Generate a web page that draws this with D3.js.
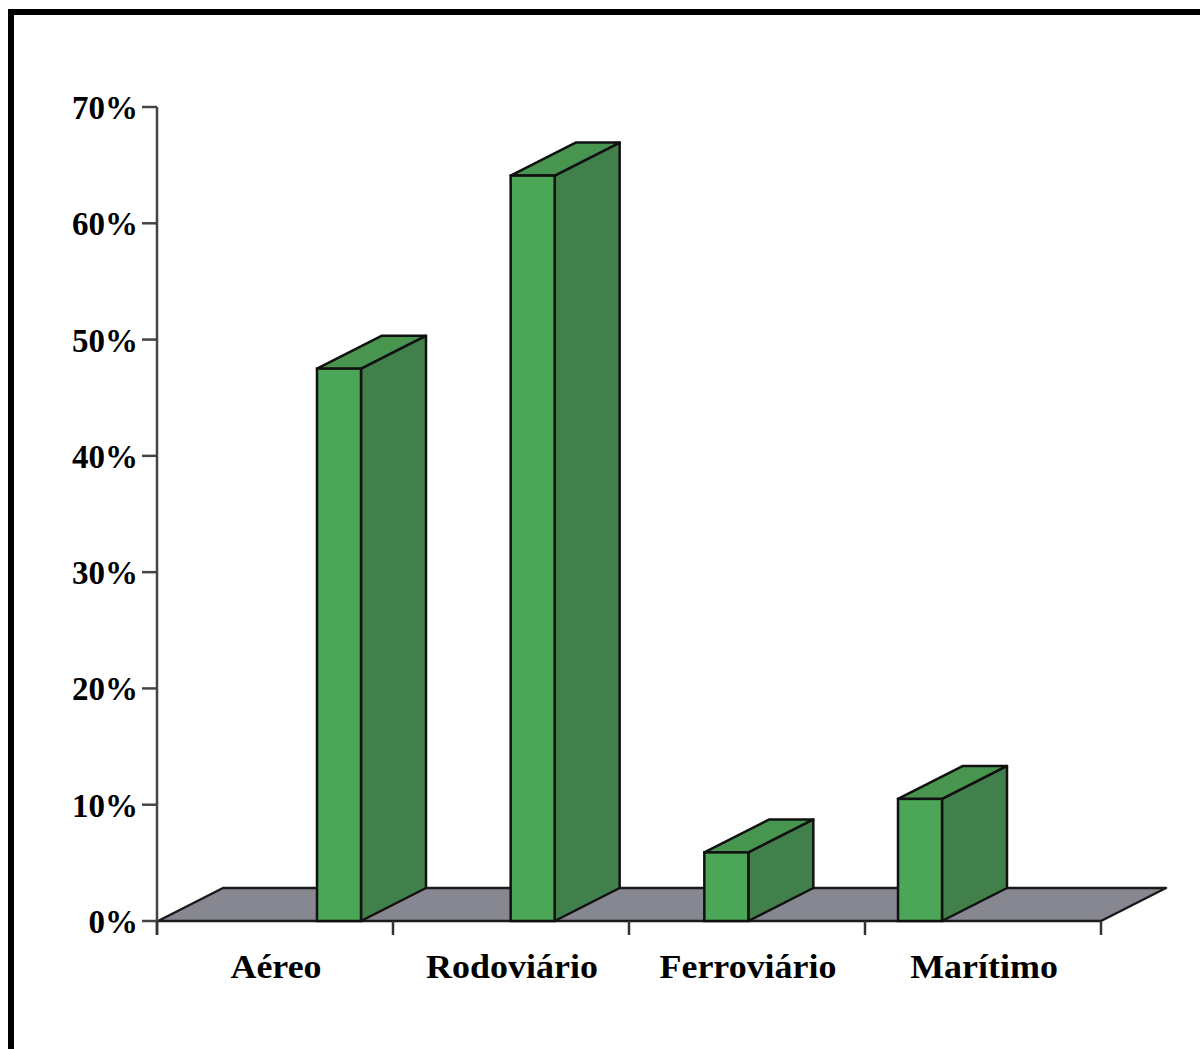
<!DOCTYPE html>
<html>
<head>
<meta charset="utf-8">
<script src="https://cdn.jsdelivr.net/npm/d3@7"></script>
<style>
  html, body { margin: 0; padding: 0; background: #fff; }
  svg { display: block; }
  text { font-family: "Liberation Serif", "Times New Roman", serif; font-weight: bold; fill: #000; }
</style>
</head>
<body>
<svg id="chart" width="1200" height="1049"></svg>
<script>
const categories = ["Aéreo", "Rodoviário", "Ferroviário", "Marítimo"];
const values = [0.475, 0.641, 0.059, 0.105];
const yTicks = [0, 0.1, 0.2, 0.3, 0.4, 0.5, 0.6, 0.7];

const svg = d3.select("#chart");
const W = 1200, H = 1049;

// frame
svg.append("rect")
  .attr("x", 11).attr("y", 12)
  .attr("width", W + 20).attr("height", H + 20)
  .attr("fill", "none").attr("stroke", "#000").attr("stroke-width", 6);

const y = d3.scaleLinear().domain([0, 0.7]).range([921, 107]);
const xAxisScale = d3.scaleBand().domain(categories).range([157, 1101]);
const xBar = d3.scalePoint().domain(categories).range([317, 898]);
const barW = 44;
const dx = 65, dy = -33;

const g = svg.append("g");

// floor
const fl = 158, fr = 1101, fy = y(0);
g.append("path")
  .attr("d", `M${fl},${fy} L${fr},${fy} L${fr+dx},${fy+dy} L${fl+dx},${fy+dy} Z`)
  .attr("fill", "#878792").attr("stroke", "#1a1a1a").attr("stroke-width", 2.5)
  .attr("stroke-linejoin", "round");

// y axis
g.append("line").attr("x1", 157).attr("x2", 157).attr("y1", y(0.7)).attr("y2", y(0) + 14)
  .attr("stroke", "#444").attr("stroke-width", 2.5);
g.selectAll(".ytick").data(yTicks).enter().append("line")
  .attr("x1", 142).attr("x2", 157)
  .attr("y1", d => y(d)).attr("y2", d => y(d))
  .attr("stroke", "#444").attr("stroke-width", 2.5);
g.selectAll(".ylab").data(yTicks).enter().append("text")
  .attr("x", 138).attr("y", d => y(d) + 12)
  .attr("text-anchor", "end")
  .attr("font-size", 33)
  .text(d => Math.round(d * 100) + "%");

// x axis ticks
const xTickPos = categories.map(c => xAxisScale(c)).concat([xAxisScale.range()[1]]);
g.selectAll(".xtick").data(xTickPos).enter().append("line")
  .attr("x1", d => d).attr("x2", d => d)
  .attr("y1", y(0)).attr("y2", y(0) + 14)
  .attr("stroke", "#333").attr("stroke-width", 2.5);

// bars
const bars = g.selectAll(".bar").data(categories.map((c, i) => ({c, v: values[i]}))).enter()
  .append("g");
bars.append("path") // side
  .attr("d", d => {
    const x1 = xBar(d.c) + barW, yt = y(d.v), yb = y(0);
    return `M${x1},${yb} L${x1+dx},${yb+dy} L${x1+dx},${yt+dy} L${x1},${yt} Z`;
  })
  .attr("fill", "#417f4b").attr("stroke", "#111").attr("stroke-width", 2.5).attr("stroke-linejoin", "round");
bars.append("path") // top
  .attr("d", d => {
    const x0 = xBar(d.c), x1 = x0 + barW, yt = y(d.v);
    return `M${x0},${yt} L${x1},${yt} L${x1+dx},${yt+dy} L${x0+dx},${yt+dy} Z`;
  })
  .attr("fill", "#47954f").attr("stroke", "#111").attr("stroke-width", 2.5).attr("stroke-linejoin", "round");
bars.append("rect") // front
  .attr("x", d => xBar(d.c)).attr("y", d => y(d.v))
  .attr("width", barW).attr("height", d => y(0) - y(d.v))
  .attr("fill", "#4ca658").attr("stroke", "#111").attr("stroke-width", 2.5);

// category labels
g.selectAll(".xlab").data(categories).enter().append("text")
  .attr("transform", c => `translate(${xAxisScale(c) + xAxisScale.bandwidth()/2 + 1},978) scale(1.09,1)`)
  .attr("text-anchor", "middle")
  .attr("font-size", 33)
  .text(c => c);
</script>
</body>
</html>
